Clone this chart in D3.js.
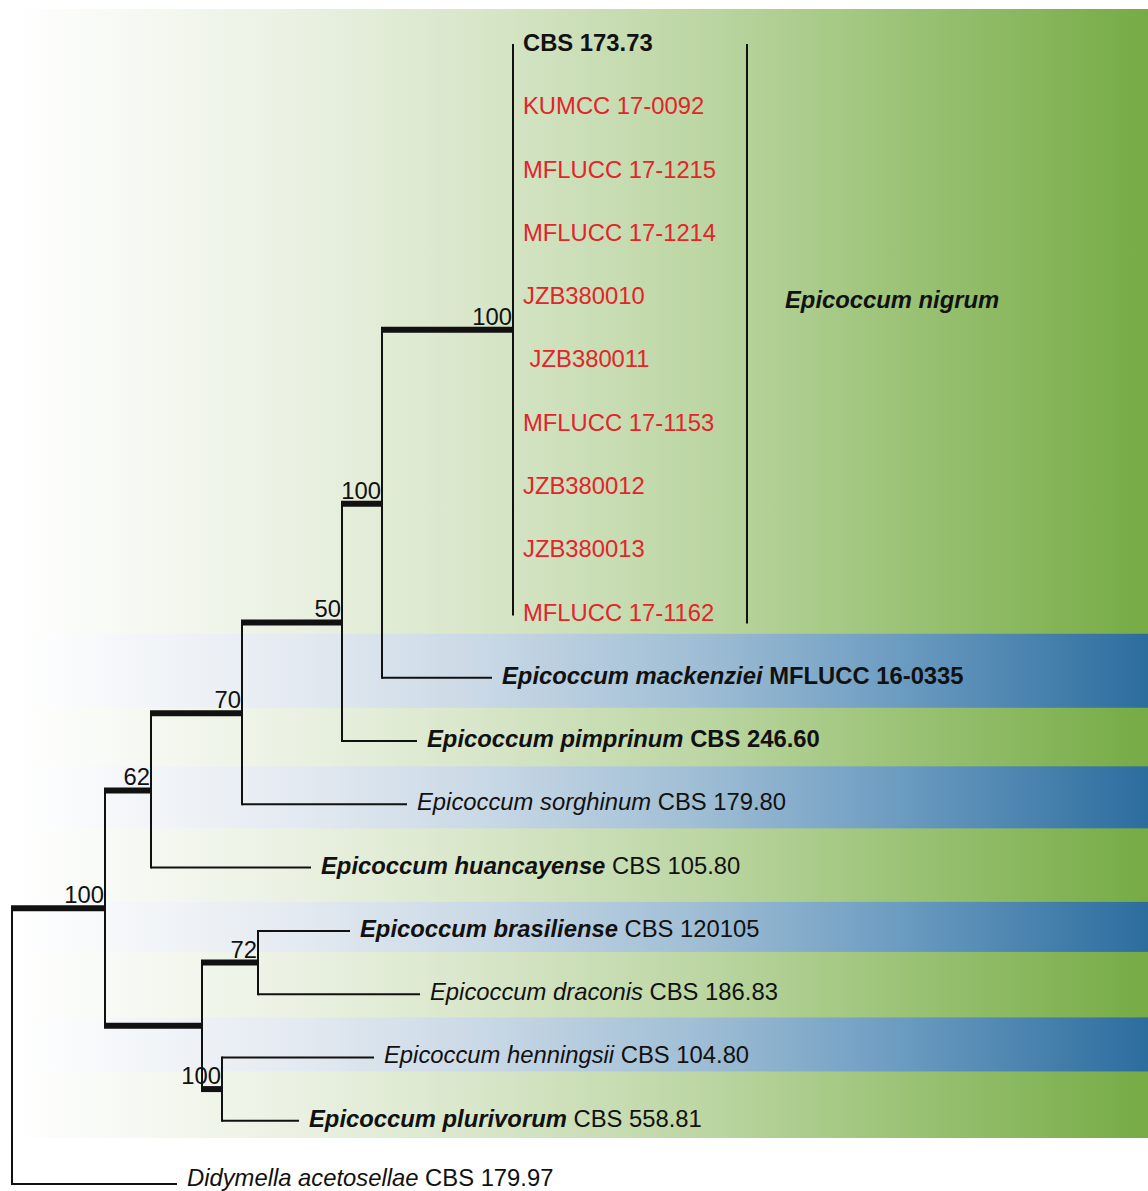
<!DOCTYPE html>
<html>
<head>
<meta charset="utf-8">
<script src="https://cdn.jsdelivr.net/npm/d3@7"></script>
<style>
  html, body { margin: 0; padding: 0; background: #ffffff; }
  svg { display: block; }
  text { font-family: "Liberation Sans", Arial, sans-serif; white-space: pre; }
</style>
</head>
<body>
<svg id="tree" width="1148" height="1191"></svg>
<script>
// ---- Internal nodes: id, parent, branch length, bootstrap support ----
const nodeIds      = ["root", "A", "B", "C", "D", "E", "F", "G", "H", "I"];
const nodeParents  = [null, "root", "A", "B", "C", "D", "E", "A", "G", "G"];
const nodeLengths  = [0, 0.093, 0.046, 0.091, 0.100, 0.040, 0.131, 0.097, 0.056, 0.020];
const nodeSupports = [null, 100, 62, 70, 50, 100, 100, null, 72, 100];

// ---- Terminal taxa (top to bottom) ----
const tipSpecies = [
  "", "", "", "", "", "", "", "", "", "",
  "Epicoccum mackenziei", "Epicoccum pimprinum", "Epicoccum sorghinum",
  "Epicoccum huancayense", "Epicoccum brasiliense", "Epicoccum draconis",
  "Epicoccum henningsii", "Epicoccum plurivorum", "Didymella acetosellae"
];
const tipStrains = [
  "CBS 173.73", "KUMCC 17-0092", "MFLUCC 17-1215", "MFLUCC 17-1214", "JZB380010",
  "\u00a0JZB380011", "MFLUCC 17-1153", "JZB380012", "JZB380013", "MFLUCC 17-1162",
  "MFLUCC 16-0335", "CBS 246.60", "CBS 179.80", "CBS 105.80", "CBS 120105",
  "CBS 186.83", "CBS 104.80", "CBS 558.81", "CBS 179.97"
];
const tipParents = [
  "F", "F", "F", "F", "F", "F", "F", "F", "F", "F",
  "E", "D", "C", "B", "H", "H", "I", "I", "root"
];
const tipLengths = [
  0, 0, 0, 0, 0, 0, 0, 0, 0, 0,
  0.110, 0.075, 0.165, 0.160, 0.092, 0.162, 0.152, 0.077, 0.165
];
// isolates from this study
const tipNewIsolate = [false, true, true, true, true, true, true, true, true, true,
  false, false, false, false, false, false, false, false, false];
// ex-type species / ex-type strain
const tipTypeSpecies = [false, false, false, false, false, false, false, false, false, false,
  true, true, false, true, true, false, false, true, false];
const tipTypeStrain = [true, false, false, false, false, false, false, false, false, false,
  true, true, false, false, false, false, false, false, false];
// taxa highlighted with a blue stripe
const blueStripeTips = ["MFLUCC 16-0335", "CBS 179.80", "CBS 120105", "CBS 104.80"];

// ---- Named clade ----
const cladeName = "Epicoccum nigrum";
const cladeFirstTip = 0, cladeLastTip = 9;

// ---- build hierarchy ----
const rows = [];
nodeIds.forEach((id, i) => rows.push({
  id, parent: nodeParents[i], length: nodeLengths[i], support: nodeSupports[i], tip: false
}));
tipStrains.forEach((s, i) => rows.push({
  id: "t" + i, parent: tipParents[i], length: tipLengths[i], tip: true, index: i,
  species: tipSpecies[i], strain: s, isNew: tipNewIsolate[i],
  typeSpecies: tipTypeSpecies[i], typeStrain: tipTypeStrain[i]
}));
const root = d3.stratify().id(d => d.id).parentId(d => d.parent)(rows);

// cumulative distance from root
root.eachBefore(n => { n.dist = n.parent ? n.parent.dist + n.data.length : 0; });

const W = 1148, H = 1191;
const FS = 23.8;
const x = d3.scaleLinear().domain([0, 1]).range([12, 1012]);
const y = d3.scaleLinear().domain([0, tipStrains.length - 1]).range([45, 1184]);

// vertical positions: tips by order, internal nodes at midpoint of outer children
root.eachAfter(n => {
  if (!n.children) n.yPos = y(n.data.index);
  else n.yPos = (n.children[0].yPos + n.children[n.children.length - 1].yPos) / 2;
});

const svg = d3.select("#tree");
const defs = svg.append("defs");

function gradient(id, stops) {
  const g = defs.append("linearGradient").attr("id", id)
    .attr("x1", "0").attr("x2", "1").attr("y1", "0").attr("y2", "0");
  stops.forEach(([o, c]) => g.append("stop").attr("offset", o).attr("stop-color", c));
}
gradient("greenGrad", [[0, "#ffffff"], [0.25, "#eaf1e2"], [0.41, "#d8e6c9"],
  [0.61, "#bcd6a3"], [0.78, "#9cc377"], [1, "#76ab45"]]);
gradient("blueGrad", [[0, "#ffffff"], [0.25, "#e4eaf1"], [0.41, "#cad9e6"],
  [0.61, "#9ebdd4"], [0.78, "#6c9cc1"], [1, "#2c6d9e"]]);

// ---- background panels ----
const leaves = root.leaves();
const bgTop = 9, bgBottom = 1138, bgLeft = 12;
svg.append("rect").attr("x", bgLeft).attr("y", bgTop)
  .attr("width", W - bgLeft).attr("height", bgBottom - bgTop)
  .attr("fill", "url(#greenGrad)");

// stripe extents around each highlighted tip (above, below)
const stripeExtent = { "MFLUCC 16-0335": [44, 30], "CBS 179.80": [38, 24],
  "CBS 120105": [29, 21], "CBS 104.80": [40, 14] };
leaves.filter(l => blueStripeTips.includes(l.data.strain)).forEach(l => {
  const [up, down] = stripeExtent[l.data.strain];
  svg.append("rect").attr("x", bgLeft).attr("y", l.yPos - up)
    .attr("width", W - bgLeft).attr("height", up + down)
    .attr("fill", "url(#blueGrad)");
});

// ---- branches ----
const ink = "#111111";
const g = svg.append("g");
root.descendants().forEach(n => {
  if (n.parent) {
    const internal = !!n.children;
    if (n.data.length > 0) {
      g.append("line")
        .attr("x1", x(n.parent.dist) - (internal ? 1 : 0)).attr("x2", x(n.dist) + (internal ? 1 : 0))
        .attr("y1", n.yPos).attr("y2", n.yPos)
        .attr("stroke", ink).attr("stroke-width", internal ? 6 : 2);
    }
  }
  if (n.children) {
    const c0 = n.children[0], c1 = n.children[n.children.length - 1];
    g.append("line")
      .attr("x1", x(n.dist)).attr("x2", x(n.dist))
      .attr("y1", c0.yPos - 1).attr("y2", c1.yPos + 1)
      .attr("stroke", ink).attr("stroke-width", 2);
  }
});

// ---- support values ----
root.descendants().filter(n => n.data.support != null).forEach(n => {
  g.append("text")
    .attr("x", x(n.dist) - 1).attr("y", n.yPos - 5)
    .attr("text-anchor", "end").attr("font-size", FS).attr("fill", ink)
    .text(n.data.support);
});

// ---- tip labels ----
leaves.forEach(l => {
  const d = l.data;
  const t = g.append("text")
    .attr("x", x(l.dist) + 10).attr("y", Math.min(l.yPos + 6, H - 5))
    .attr("font-size", FS)
    .attr("fill", d.isNew ? "#e3242b" : ink);
  if (d.species) {
    t.append("tspan").attr("font-style", "italic")
      .attr("font-weight", d.typeSpecies ? "bold" : "normal")
      .text(d.species + " ");
  }
  t.append("tspan").attr("font-weight", d.typeStrain ? "bold" : "normal").text(d.strain);
});

// ---- clade bar ----
const barX = 747;
g.append("line").attr("x1", barX).attr("x2", barX)
  .attr("y1", y(cladeFirstTip) - 1).attr("y2", y(cladeLastTip) + 9)
  .attr("stroke", ink).attr("stroke-width", 2);
g.append("text").attr("x", barX + 38).attr("y", (y(cladeFirstTip) + y(cladeLastTip)) / 2 - 22)
  .attr("font-size", FS).attr("font-weight", "bold").attr("font-style", "italic")
  .attr("fill", ink).text(cladeName);
</script>
</body>
</html>
